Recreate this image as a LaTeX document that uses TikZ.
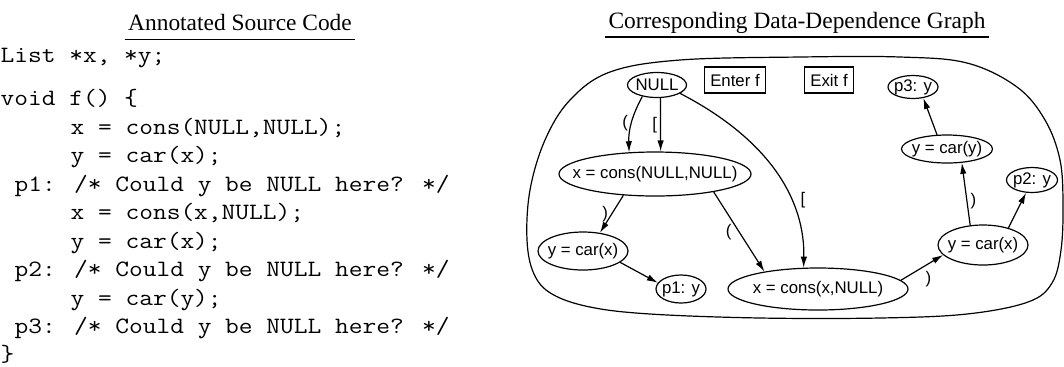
\documentclass[tikz,border=0pt]{standalone}
\usepackage{fontspec}
\setmainfont{Liberation Serif}
\setsansfont{Liberation Sans}
\newfontfamily\codefont[FakeStretch=1.14]{Latin Modern Mono}
\usetikzlibrary{arrows.meta,shapes.geometric}

\begin{document}
\begin{tikzpicture}[x=0.5pt, y=-0.5pt, >={Latex[length=5.5pt,width=3.2pt]}, line width=0.6pt,
		code/.style={anchor=base west, inner sep=0pt, font=\codefont\fontsize{11.7}{14}\selectfont},
		ttl/.style={anchor=base, inner xsep=1.5pt, font=\fontsize{11.7}{14}\selectfont},
		dep/.style={ellipse, draw, inner sep=0pt, font=\sffamily\fontsize{8.4}{10}\selectfont},
		evt/.style={draw, inner xsep=3pt, inner ysep=0pt, minimum height=13pt, font=\sffamily\fontsize{8.4}{10}\selectfont},
		lab/.style={inner sep=1.5pt, font=\sffamily\fontsize{8.4}{10}\selectfont}]
			\useasboundingbox (0,0) rectangle (1064,366);

			% source listing
			\node[ttl] (srcTitle) at (240,30) {Annotated Source Code};
			\draw ([yshift=-4.7pt]srcTitle.base west) -- ([yshift=-4.7pt]srcTitle.base east);
			\node[code] (cDecl) at (0,62) {List *x, *y;};
			\node[code] (cHead) at (0,105) {void f() \{};
			\node[code] (cS1) at (70,134) {x = cons(NULL,NULL);};
			\node[code] (cS2) at (70,162) {y = car(x);};
			\node[code] (cP1) at (14,191) {p1: /* Could y be NULL here? */};
			\node[code] (cS3) at (70,219) {x = cons(x,NULL);};
			\node[code] (cS4) at (70,248) {y = car(x);};
			\node[code] (cP2) at (14,276) {p2: /* Could y be NULL here? */};
			\node[code] (cS5) at (70,305) {y = car(y);};
			\node[code] (cP3) at (14,333) {p3: /* Could y be NULL here? */};
			\node[code] (cEnd) at (0,361) {\}};

			% data-dependence graph
			\node[ttl] (dgTitle) at (797,28) {Corresponding Data-Dependence Graph};
			\draw ([yshift=-4.5pt]dgTitle.base west) -- ([yshift=-4.5pt]dgTitle.base east);
			\draw plot[smooth cycle, tension=.6] coordinates {(800,57) (900,57) (967,63) (1017,87) (1045,120)
				(1060,160) (1063,205) (1061,250) (1052,283) (1028,302) (967,314) (880,318) (760,318)
				(650,314) (590,307) (552,294) (534,274) (527,240) (530,190) (545,140) (570,100) (610,72) (680,60)};

			\node[dep, minimum width=29.5pt, minimum height=12.5pt] (null) at (657,85) {\makebox[0pt]{NULL}};
			\node[evt] (enter) at (735,80) {Enter f};
			\node[evt] (exit) at (829,80) {Exit f};
			\node[dep, minimum width=25pt, minimum height=11.5pt] (pThree) at (913,87) {\makebox[0pt]{p3: y}};
			\node[dep, minimum width=45.5pt, minimum height=14pt] (carY) at (947,149) {\makebox[0pt]{y = car(y)}};
			\node[dep, minimum width=25.5pt, minimum height=12.5pt] (pTwo) at (1032,180) {\makebox[0pt]{p2: y}};
			\node[dep, minimum width=96pt, minimum height=22pt] (consNN) at (655,174) {\makebox[0pt]{x = cons(NULL,NULL)}};
			\node[dep, minimum width=45pt, minimum height=19pt] (carXa) at (583,251) {\makebox[0pt]{y = car(x)}};
			\node[dep, minimum width=25pt, minimum height=14pt] (pOne) at (681,289) {\makebox[0pt]{p1: y}};
			\node[dep, minimum width=90pt, minimum height=21pt] (consXN) at (818,289) {\makebox[0pt]{x = cons(x,NULL)}};
			\node[dep, minimum width=45pt, minimum height=20pt] (carXb) at (983,245) {\makebox[0pt]{y = car(x)}};

			\draw[->] (null.218) to[bend right=15] node[lab, left] (lA) {(} (consNN.140);
			\draw[->] (null.285) -- node[lab, left] (lB) {[} (consNN.76);
			\draw[->] (null.340) .. controls (770,140) and (805,200) .. node[lab, pos=.65, right=3pt] (lC) {[} (consXN.124);
			\draw[->] (consNN.214) -- node[lab, left] (lD) {)} (carXa.47);
			\draw[->] (consNN.343) -- node[lab, left=2pt] (lE) {(} (consXN.162);
			\draw[->] (carXa.343) -- (pOne.165);
			\draw[->] (consXN.6) -- node[lab, below right] (lF) {)} (carXb.194);
			\draw[->] (carXb.123) -- node[lab, pos=.38, right] (lG) {)} (carY.317);
			\draw[->] (carXb.34) -- (pTwo.245);
			\draw[->] (carY.125) -- (pThree.313);
		\end{tikzpicture}
\end{document}
